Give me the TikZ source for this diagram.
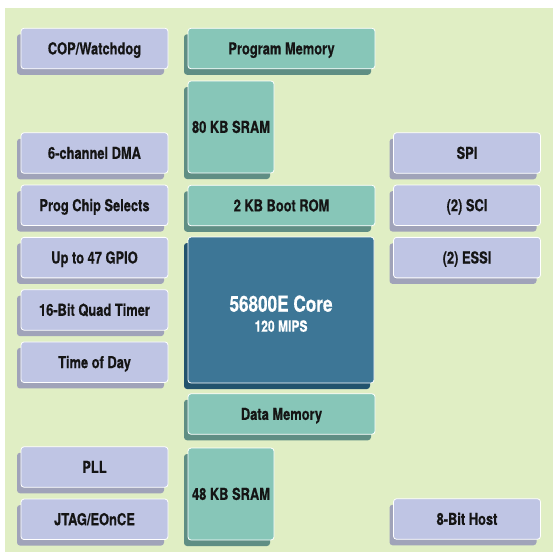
\documentclass[tikz,border=0pt]{standalone}
\usepackage{fontspec}
\setmainfont{TeX Gyre Heros}[FakeStretch=0.78, BoldFeatures={FakeBold=0.5}]
\usetikzlibrary{shapes,positioning,shadows,calc}
\usepackage{xcolor}

\definecolor{bggreen}{HTML}{E0EEC4}
\definecolor{periph}{HTML}{BFC5E4}
\definecolor{periphsh}{HTML}{A0A3B9}
\definecolor{memfill}{HTML}{87C6B8}
\definecolor{memsh}{HTML}{5F8E84}
\definecolor{corefill}{HTML}{3D7696}
\definecolor{coresh}{HTML}{22536D}
\definecolor{txt}{HTML}{151515}

\begin{document}
\begin{tikzpicture}[x=1pt,y=-1pt]

	\tikzstyle{blk}=[draw=white, line width=0.8pt, rectangle, rounded corners=3pt, inner sep=0pt, text=txt,
		text height=11.8pt, text depth=0pt, font=\bfseries\fontsize{16.5}{18}\selectfont];
	\tikzstyle{perblk}=[blk, fill=periph, minimum width=147pt, minimum height=40.5pt,
		drop shadow={shadow xshift=-4pt, shadow yshift=-6pt, fill=periphsh, opacity=1, draw=none}];
	\tikzstyle{memblk}=[blk, fill=memfill, minimum width=187pt, minimum height=40.5pt,
		drop shadow={shadow xshift=-4pt, shadow yshift=-6pt, fill=memsh, opacity=1, draw=none}];
	\tikzstyle{sramblk}=[memblk, minimum width=86pt, minimum height=92pt];

	\useasboundingbox (0,0) rectangle (553,552);
	\fill[bggreen] (5,8) rectangle (553,552);

	\begin{scope}[node distance=11pt]

		% left column
		\node (cop) at (94.5,48.5) [perblk]{COP/Watchdog};
		\node (dma) at (94.5,153) [perblk]{6-channel DMA};
		\node (chipsel) [below = of dma, perblk]{Prog Chip Selects};
		\node (gpio) [below = of chipsel, perblk]{Up to 47 GPIO};
		\node (timer) [below = of gpio, perblk]{16-Bit Quad Timer};
		\node (tod) [below = of timer, perblk]{Time of Day};
		\node (pll) at (94.5,467) [perblk]{PLL};
		\node (jtag) [below = of pll, perblk]{JTAG/EOnCE};

		% memory and core
		\node (progmem) at (281.5,48.5) [memblk]{Program Memory};
		\node (sram80) at (231,127) [sramblk]{80 KB SRAM};
		\node (bootrom) at (281.5,205.5) [memblk]{2 KB Boot ROM};
		\node (core) at (281,310) [blk, fill=corefill, minimum width=186pt, minimum height=146pt,
			drop shadow={shadow xshift=-4pt, shadow yshift=-6pt, fill=coresh, opacity=1, draw=none}]{};
		\node (coretitle) at ($(core.center)+(0,1.7)$) [anchor=base, inner sep=0pt, text=white,
			font=\bfseries\fontsize{22}{24}\selectfont]{56800E Core};
		\node (mips) at ($(core.center)+(0,21.7)$) [anchor=base, inner sep=0pt, text=white,
			font=\bfseries\fontsize{15.5}{17}\selectfont]{120 MIPS};
		\node (datamem) at (281.5,414) [memblk]{Data Memory};
		\node (sram48) at (231,494) [sramblk]{48 KB SRAM};

		% right column
		\node (spi) at (467,153) [perblk]{SPI};
		\node (sci) [below = of spi, perblk]{(2) SCI};
		\node (essi) [below = of sci, perblk]{(2) ESSI};
		\node (host) at (467,519) [perblk]{8-Bit Host};

	\end{scope}
\end{tikzpicture}
\end{document}
